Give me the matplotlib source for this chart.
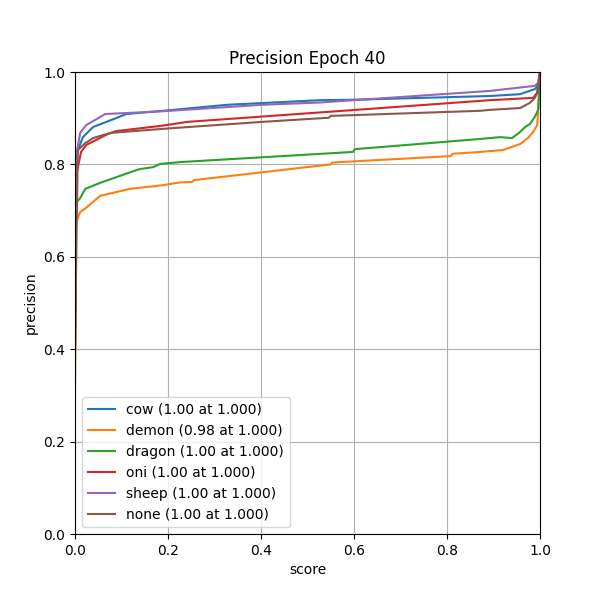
import matplotlib
matplotlib.use("Agg")
import matplotlib.pyplot as plt

classes = ["cow", "demon", "dragon", "oni", "sheep", "none"]
best_prec = [1.00, 0.98, 1.00, 1.00, 1.00, 1.00]
best_score = [1.000, 1.000, 1.000, 1.000, 1.000, 1.000]

cow_x = [0, 0.002, 0.006, 0.017, 0.039, 0.088, 0.110, 0.189, 0.327, 0.527, 0.6,
         0.892, 0.957, 0.989, 0.996, 1.0]
cow_y = [0.45, 0.80, 0.831, 0.859, 0.881, 0.900, 0.909, 0.916, 0.929, 0.939, 0.940,
         0.948, 0.952, 0.963, 0.972, 1.0]

demon_x = [0, 0.002, 0.011, 0.024, 0.054, 0.118, 0.189, 0.226, 0.252, 0.256, 0.550,
           0.553, 0.808, 0.812, 0.871, 0.920, 0.957, 0.974, 0.985, 0.994, 1.0]
demon_y = [0.3, 0.673, 0.697, 0.706, 0.732, 0.747, 0.755, 0.761, 0.762, 0.766, 0.800,
           0.804, 0.818, 0.823, 0.827, 0.831, 0.844, 0.857, 0.870, 0.885, 0.98]

dragon_x = [0, 0.002, 0.011, 0.022, 0.054, 0.133, 0.140, 0.168, 0.183, 0.226, 0.598,
            0.602, 0.871, 0.914, 0.940, 0.957, 0.968, 0.978, 0.989, 0.996, 1.0]
dragon_y = [0.35, 0.716, 0.727, 0.747, 0.760, 0.788, 0.790, 0.794, 0.801, 0.805, 0.827,
            0.833, 0.855, 0.859, 0.857, 0.870, 0.881, 0.887, 0.903, 0.918, 1.0]

oni_x = [0, 0.002, 0.013, 0.024, 0.067, 0.088, 0.189, 0.241, 0.548, 0.892, 0.985,
         0.994, 1.0]
oni_y = [0.4, 0.773, 0.827, 0.842, 0.864, 0.872, 0.884, 0.892, 0.914, 0.939, 0.944,
         0.955, 1.0]

sheep_x = [0, 0.002, 0.011, 0.024, 0.065, 0.189, 0.402, 0.527, 0.6, 0.892, 0.989,
           0.996, 1.0]
sheep_y = [0.45, 0.816, 0.868, 0.885, 0.909, 0.915, 0.929, 0.934, 0.939, 0.959, 0.970,
           0.977, 1.0]

none_x = [0, 0.006, 0.022, 0.039, 0.075, 0.189, 0.402, 0.546, 0.55, 0.871, 0.892,
          0.957, 0.978, 0.989, 0.994, 1.0]
none_y = [0.4, 0.831, 0.846, 0.857, 0.868, 0.877, 0.892, 0.901, 0.905, 0.916, 0.918,
          0.922, 0.933, 0.944, 0.955, 1.0]

curves = [(cow_x, cow_y), (demon_x, demon_y), (dragon_x, dragon_y),
          (oni_x, oni_y), (sheep_x, sheep_y), (none_x, none_y)]

fig, ax = plt.subplots(figsize=(6, 6), dpi=100)
for name, (xs, ys), p, s in zip(classes, curves, best_prec, best_score):
    ax.plot(xs, ys, label=f"{name} ({p:.2f} at {s:.3f})")

ax.set_xlim(0, 1)
ax.set_ylim(0, 1)
ax.grid(True)
ax.set_title("Precision Epoch 40")
ax.set_xlabel("score")
ax.set_ylabel("precision")
ax.legend(loc="lower left")

fig.savefig("out.png")
